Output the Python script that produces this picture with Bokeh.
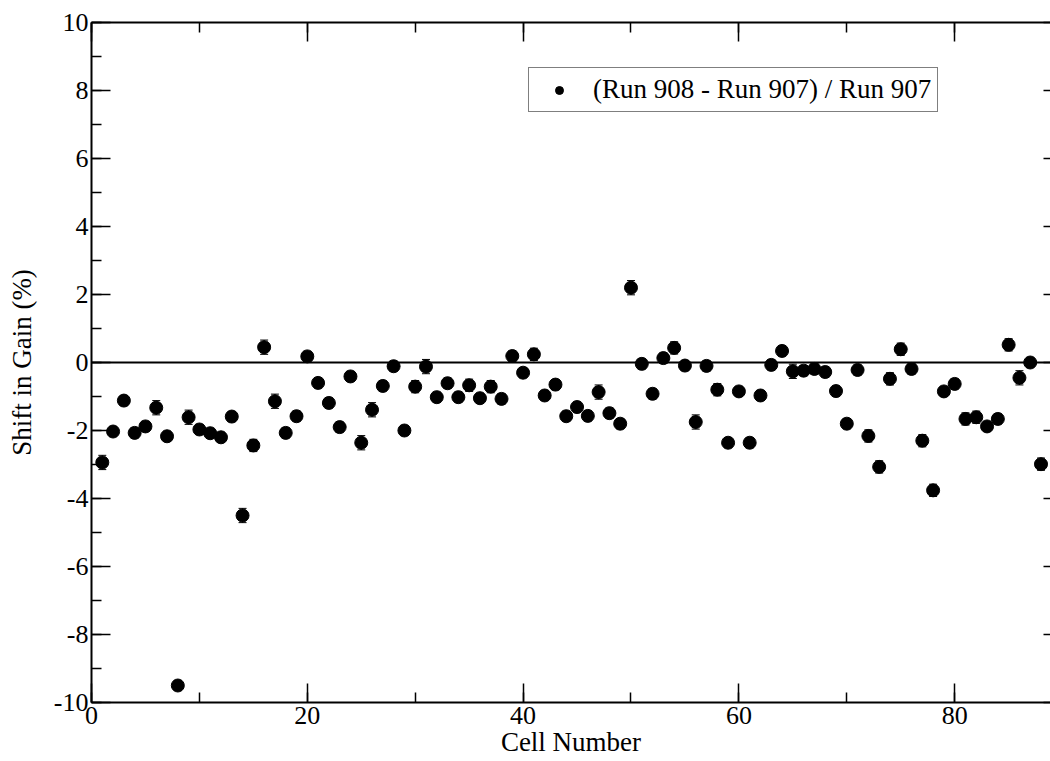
from bokeh.plotting import figure
from bokeh.models import (ColumnDataSource, Whisker, Span, LinearAxis, Range1d,
                          SingleIntervalTicker, TeeHead, CustomJSTickFormatter)
from bokeh.embed import file_html
from bokeh.resources import INLINE

# ---- data ----
cells = list(range(1, 89))
shift = [-2.94, -2.03, -1.12, -2.07, -1.88, -1.33, -2.17, -9.50, -1.61, -1.97,
         -2.08, -2.20, -1.59, -4.50, -2.44, 0.45, -1.14, -2.07, -1.58, 0.18,
         -0.60, -1.19, -1.90, -0.41, -2.36, -1.39, -0.69, -0.11, -2.00, -0.71,
         -0.12, -1.02, -0.61, -1.02, -0.67, -1.05, -0.71, -1.07, 0.19, -0.30,
         0.24, -0.97, -0.65, -1.58, -1.31, -1.57, -0.87, -1.49, -1.80, 2.20,
         -0.04, -0.92, 0.13, 0.43, -0.09, -1.75, -0.10, -0.80, -2.36, -0.85,
         -2.36, -0.97, -0.07, 0.34, -0.26, -0.24, -0.19, -0.28, -0.84, -1.80,
         -0.22, -2.16, -3.07, -0.48, 0.39, -0.19, -2.30, -3.76, -0.85, -0.63,
         -1.66, -1.61, -1.88, -1.66, 0.52, -0.45, 0.00, -2.99]
err = [0.21, 0.15, 0.15, 0.15, 0.15, 0.21, 0.15, 0.15, 0.21, 0.15,
       0.15, 0.15, 0.15, 0.21, 0.18, 0.21, 0.21, 0.15, 0.15, 0.15,
       0.15, 0.15, 0.15, 0.15, 0.21, 0.21, 0.15, 0.15, 0.15, 0.18,
       0.21, 0.15, 0.15, 0.15, 0.18, 0.15, 0.18, 0.15, 0.15, 0.15,
       0.18, 0.15, 0.15, 0.15, 0.15, 0.15, 0.21, 0.15, 0.15, 0.21,
       0.15, 0.15, 0.15, 0.18, 0.15, 0.21, 0.15, 0.18, 0.15, 0.15,
       0.15, 0.15, 0.15, 0.15, 0.21, 0.15, 0.15, 0.15, 0.15, 0.15,
       0.15, 0.18, 0.18, 0.18, 0.18, 0.15, 0.18, 0.18, 0.15, 0.15,
       0.18, 0.18, 0.15, 0.15, 0.18, 0.21, 0.15, 0.18]
x_ticks = [0, 20, 40, 60, 80]
y_ticks = [-10, -8, -6, -4, -2, 0, 2, 4, 6, 8, 10]
series_label = "(Run 908 - Run 907) / Run 907"
x_title = "Cell Number"
y_title = "Shift in Gain (%)"

lower = [s - e for s, e in zip(shift, err)]
upper = [s + e for s, e in zip(shift, err)]
src = ColumnDataSource(dict(cell=cells, shift=shift, lower=lower, upper=upper))

FONT = "'Liberation Serif', 'Times New Roman', Times, serif"

p = figure(width=1050, height=761, output_backend="svg", toolbar_location=None,
           x_range=Range1d(0, 88.88), y_range=Range1d(-10, 10),
           min_border_left=91, min_border_top=22, min_border_bottom=59,
           min_border_right=0, x_axis_label=x_title, y_axis_label=y_title)
p.grid.visible = False
p.outline_line_color = None
p.background_fill_color = "white"
p.border_fill_color = "white"

p.xaxis.ticker = SingleIntervalTicker(interval=20, num_minor_ticks=2)
p.yaxis.ticker = SingleIntervalTicker(interval=2, num_minor_ticks=2)
p.xaxis.major_label_overrides = {t: str(t) for t in x_ticks}
p.yaxis.major_label_overrides = {t: str(t) for t in y_ticks}


def style(ax):
    ax.axis_line_color = "black"
    ax.axis_line_width = 2
    ax.major_tick_in = 19
    ax.major_tick_out = 0
    ax.minor_tick_in = 10
    ax.minor_tick_out = 0
    ax.major_tick_line_color = "black"
    ax.minor_tick_line_color = "black"
    ax.major_tick_line_width = 1.5
    ax.minor_tick_line_width = 1.5
    ax.major_label_text_font = FONT
    ax.major_label_text_font_size = "26px"
    ax.major_label_text_color = "black"
    ax.axis_label_text_font = FONT
    ax.axis_label_text_font_size = "27px"
    ax.axis_label_text_font_style = "normal"
    ax.axis_label_text_color = "black"


for ax in p.xaxis + p.yaxis:
    style(ax)
p.xaxis.major_label_standoff = 4
p.xaxis.axis_label_standoff = 0
p.yaxis.major_label_standoff = 3
p.yaxis.axis_label_standoff = 14

blank = CustomJSTickFormatter(code="return ''")

top = LinearAxis(ticker=SingleIntervalTicker(interval=20, num_minor_ticks=2),
                 formatter=blank)
style(top)
top.major_label_text_font_size = "1px"
top.major_label_standoff = 0
p.add_layout(top, "above")

right = LinearAxis(ticker=SingleIntervalTicker(interval=2, num_minor_ticks=2),
                   formatter=blank)
style(right)
right.axis_line_color = None
right.major_tick_in = 7
right.minor_tick_in = 0
right.major_label_text_font_size = "1px"
right.major_label_standoff = 0
p.add_layout(right, "right")

p.add_layout(Span(location=0, dimension="width", line_color="black", line_width=2))

p.add_layout(Whisker(source=src, base="cell", lower="lower", upper="upper",
                     line_color="black", line_width=1,
                     upper_head=TeeHead(size=8, line_color="black", line_width=1),
                     lower_head=TeeHead(size=8, line_color="black", line_width=1)))

p.scatter("cell", "shift", source=src, size=13, color="black",
          legend_label=series_label)

lg = p.legend[0]
lg.location = (437, 590)
lg.margin = 0
lg.padding = 6
lg.glyph_width = 48
lg.label_standoff = 10
lg.label_text_font = FONT
lg.label_text_font_size = "27px"
lg.label_text_color = "black"
lg.border_line_color = "black"
lg.border_line_width = 1.5
lg.background_fill_alpha = 1

open("out.html", "w").write(file_html(p, INLINE))
